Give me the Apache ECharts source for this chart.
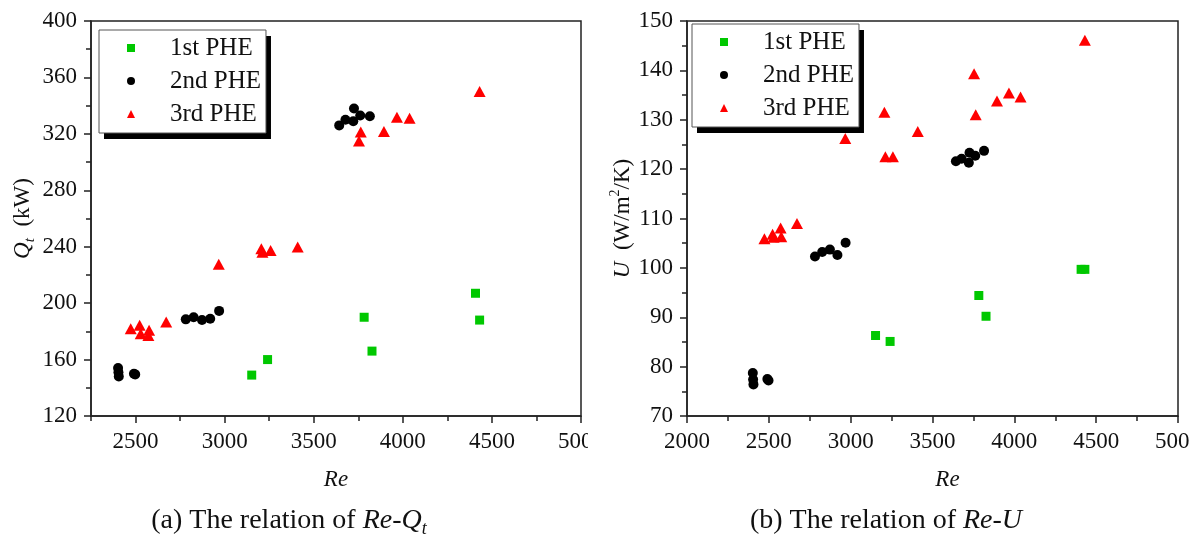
<!DOCTYPE html>
<html>
<head>
<meta charset="utf-8">
<script src="https://cdn.jsdelivr.net/npm/echarts@6/dist/echarts.min.js"></script>
<style>
    html, body { margin: 0; padding: 0; background: #fff; }
    #chartA { position: absolute; left: 0; top: 0; width: 588px; height: 534px; }
    #chartB { position: absolute; left: 588px; top: 0; width: 601px; height: 534px; }
</style>
</head>
<body>
<div id="chartA"></div>
<div id="chartB"></div>
<script>
var seriesNames = ['1st PHE', '2nd PHE', '3rd PHE'];

// Re of each PHE (shared by both panels)
var re1 = [3152, 3241, 3783, 3827, 4408, 4431];
var re2 = [2402, 2404, 2406, 2491, 2498, 2782, 2826, 2873, 2919, 2969, 3643, 3678, 3722, 3726, 3761, 3815];
var re3 = [2473, 2523, 2529, 2572, 2576, 2672, 2967, 3206, 3212, 3258, 3410, 3754, 3764, 3894, 3967, 4038, 4431];

// (a) Qt, kW
var q1 = [149, 160, 190, 166, 207, 188];
var q2 = [154, 151, 148, 150, 149.5, 188.5, 190, 188, 189, 194.5, 326, 330, 329, 338, 333, 332.5];
var q3 = [181.9, 184.3, 178.3, 177.1, 180.7, 186.7, 227.5, 238.6, 236.1, 237.3, 239.8, 314.9, 321.4, 321.7, 331.8, 331.1, 350.1];

// (b) U, W/m2/K
var u1 = [86.3, 85.1, 94.4, 90.2, 99.7, 99.7];
var u2 = [78.7, 77.4, 76.4, 77.5, 77.2, 102.3, 103.2, 103.7, 102.6, 105.1, 121.6, 122.1, 121.3, 123.3, 122.7, 123.7];
var u3 = [105.9, 106.8, 106.2, 108.1, 106.3, 109.0, 126.2, 131.5, 122.5, 122.5, 127.6, 139.3, 131.0, 133.8, 135.4, 134.6, 146.1];

// tick labels
var xTicksA = [2500, 3000, 3500, 4000, 4500, 5000];

var serif = 'Liberation Serif';
var ink = '#111';

function pairs(xs, ys) {
    var out = [];
    for (var i = 0; i < xs.length; i++) {
        out.push([xs[i], ys[i]]);
    }
    return out;
}

function buildSeries(a, b, c) {
    return [
        {name: seriesNames[0], type: 'scatter', symbol: 'rect', symbolSize: 9,
            itemStyle: {color: '#00c800', opacity: 1}, data: pairs(re1, a)},
        {name: seriesNames[1], type: 'scatter', symbol: 'circle', symbolSize: 10,
            itemStyle: {color: '#000', opacity: 1}, data: pairs(re2, b)},
        {name: seriesNames[2], type: 'scatter', symbol: 'triangle', symbolSize: [12, 11],
            itemStyle: {color: '#ff0000', opacity: 1}, data: pairs(re3, c)}
    ];
}

// legend box: a back copy only casts the black drop shadow, the front copy draws the box
function buildLegend(left, top) {
    var base = {
        orient: 'vertical',
        left: left,
        top: top,
        data: seriesNames,
        selectedMode: false,
        itemWidth: 8,
        itemHeight: 8,
        itemGap: 5,
        padding: [4, 5, 5, 28],
        backgroundColor: '#fff',
        textStyle: {fontFamily: serif, fontSize: 25, color: ink, lineHeight: 28, padding: [0, 0, 0, 30]}
    };
    var back = Object.assign({}, base, {
        z: 3, borderWidth: 0,
        shadowColor: '#000', shadowBlur: 0, shadowOffsetX: 5, shadowOffsetY: 6
    });
    var front = Object.assign({}, base, {
        z: 4, borderColor: '#555', borderWidth: 1
    });
    return [back, front];
}

var lineStyle = {color: '#222', width: 1.5};
var labelStyle = {
    color: ink, fontFamily: serif, fontSize: 23, margin: 14, showMinLabel: true, showMaxLabel: true,
    formatter: function (v) { return String(v); }
};

function yAxisOf(min, max, step, name, gap, rich) {
    return {
        type: 'value', min: min, max: max, interval: step,
        name: name, nameLocation: 'middle', nameGap: gap, nameMoveOverlap: false,
        nameTextStyle: {fontFamily: serif, fontSize: 23, color: ink, lineHeight: 30, rich: rich},
        axisLine: {lineStyle: lineStyle},
        axisTick: {length: 7, lineStyle: lineStyle},
        minorTick: {show: true, splitNumber: 2, length: 5, lineStyle: lineStyle},
        axisLabel: labelStyle,
        splitLine: {show: false}
    };
}

function reName(shift) {
    return {
        name: 'Re', nameLocation: 'middle', nameGap: 52, nameMoveOverlap: false,
        nameTextStyle: {fontFamily: serif, fontStyle: 'italic', fontSize: 23, color: ink, padding: [0, 0, 0, shift]}
    };
}

function caption(x, text, rich) {
    return {
        type: 'text', x: x, y: 521,
        style: {text: text, fontFamily: serif, fontSize: 28, fill: ink, lineHeight: 34,
            align: 'center', verticalAlign: 'middle', rich: rich}
    };
}

var gridBox = {top: 21, height: 395, show: true, borderColor: '#222', borderWidth: 1.5,
    outerBoundsMode: 'none', containLabel: false};

// ---- (a) Re - Qt
var chartA = echarts.init(document.getElementById('chartA'));
chartA.setOption({
    animation: false,
    grid: Object.assign({left: 91, width: 490}, gridBox),
    xAxis: [
        Object.assign(reName(0), {
            type: 'value', min: 2250, max: 5000, interval: 250, position: 'bottom',
            axisLine: {lineStyle: lineStyle},
            axisTick: {length: 7, lineStyle: lineStyle, customValues: xTicksA},
            axisLabel: Object.assign({}, labelStyle, {
                customValues: xTicksA,
                formatter: function (v) { return v % 500 === 0 ? String(v) : ''; }
            }),
            splitLine: {show: false}
        }),
        {
            type: 'value', min: 2250, max: 5000, interval: 250, position: 'bottom',
            axisLine: {show: false},
            axisTick: {length: 5, lineStyle: lineStyle},
            axisLabel: {show: false},
            splitLine: {show: false}
        }
    ],
    yAxis: yAxisOf(120, 400, 40, '{i|Q}{s|t}  (kW)', 53, {
        i: {fontFamily: serif, fontStyle: 'italic', fontSize: 23, lineHeight: 30, color: ink},
        s: {fontFamily: serif, fontStyle: 'italic', fontSize: 15, lineHeight: 15, verticalAlign: 'bottom', color: ink}
    }),
    legend: buildLegend(99, 30),
    series: buildSeries(q1, q2, q3),
    graphic: [caption(289, '(a) The relation of {i|Re}-{i|Q}{s|t}', {
        i: {fontFamily: serif, fontStyle: 'italic', fontSize: 28, lineHeight: 34, fill: ink},
        s: {fontFamily: serif, fontStyle: 'italic', fontSize: 18, lineHeight: 18, verticalAlign: 'bottom', fill: ink}
    })]
});

// ---- (b) Re - U
var chartB = echarts.init(document.getElementById('chartB'));
chartB.setOption({
    animation: false,
    grid: Object.assign({left: 99, width: 491}, gridBox),
    xAxis: Object.assign(reName(30), {
        type: 'value', min: 2000, max: 5000, interval: 500,
        axisLine: {lineStyle: lineStyle},
        axisTick: {length: 7, lineStyle: lineStyle},
        minorTick: {show: true, splitNumber: 2, length: 5, lineStyle: lineStyle},
        axisLabel: labelStyle,
        splitLine: {show: false}
    }),
    yAxis: yAxisOf(70, 150, 10, '{i|U}  (W/m{p|2}/K)', 49, {
        i: {fontFamily: serif, fontStyle: 'italic', fontSize: 23, lineHeight: 30, color: ink},
        p: {fontFamily: serif, fontSize: 14, lineHeight: 14, verticalAlign: 'top', color: ink}
    }),
    legend: buildLegend(104, 24),
    series: buildSeries(u1, u2, u3),
    graphic: [caption(298, '(b) The relation of {i|Re}-{i|U}', {
        i: {fontFamily: serif, fontStyle: 'italic', fontSize: 28, lineHeight: 34, fill: ink}
    })]
});
</script>
</body>
</html>
